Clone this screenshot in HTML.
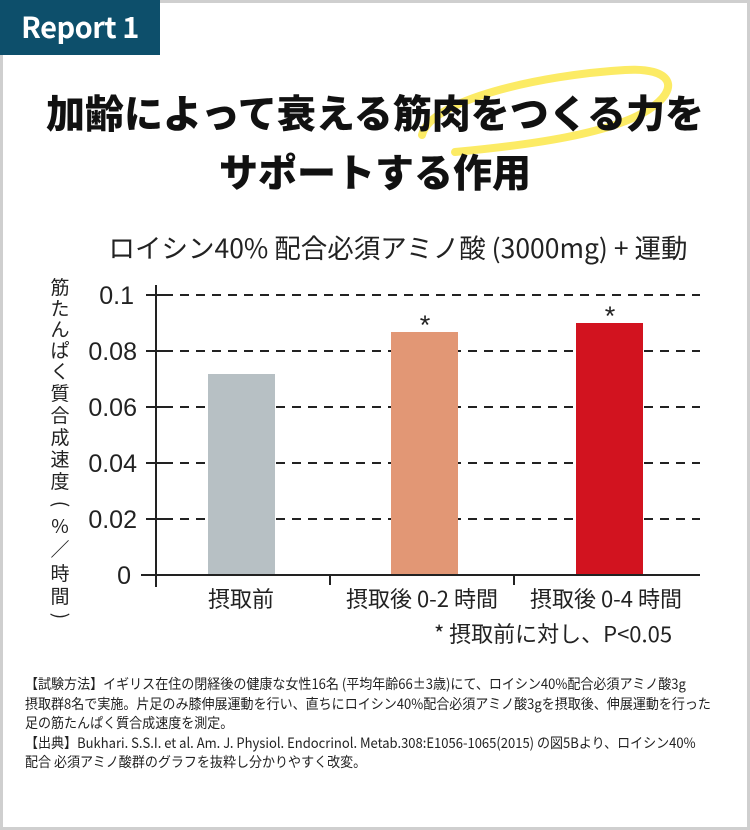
<!DOCTYPE html>
<html><head><meta charset="utf-8"><style>
body{margin:0;width:750px;height:830px;overflow:hidden;background:#fff;font-family:"Liberation Sans","Noto Sans CJK JP",sans-serif}
.frame{position:absolute;left:0;top:0;width:744px;height:824px;border:3px solid #cfcfcf;background:#fff}
.badge{position:absolute;left:0;top:0;width:160px;height:55px;background:#0d4f6b;color:#fff;font-size:29px;font-weight:bold;line-height:53px;text-align:center;font-family:"Noto Sans CJK JP",sans-serif;letter-spacing:-0.5px}
.t{position:absolute;left:0;width:750px;text-align:center;font-family:"Noto Sans CJK JP",sans-serif;font-weight:900;font-size:39px;color:#111}
.note{position:absolute;left:25px;top:675px;font-family:"Noto Sans CJK JP",sans-serif;font-size:14px;line-height:19.5px;color:#222;transform:scaleX(0.93);transform-origin:0 0;width:800px;white-space:nowrap}
</style></head><body>
<div class="frame"></div>
<svg style="position:absolute;left:0;top:0" width="750" height="830">
<path d="M422 135 C 430 100, 540 75, 625 70 C 672 67, 682 88, 648 110 C 610 134, 530 145, 455 152" fill="none" stroke="#fbe84a" stroke-width="8" stroke-linecap="round" opacity="0.85"/>
</svg>
<div class="badge">Report 1</div>
<div class="t" style="top:84px">加齢によって衰える筋肉をつくる力を</div>
<div class="t" style="top:143px">サポートする作用</div>
<svg style="position:absolute;left:0;top:0" width="750" height="830" font-family="Liberation Sans, Noto Sans CJK JP, sans-serif">
<text x="398" y="258" text-anchor="middle" font-size="26.5" fill="#222" font-family="Noto Sans CJK JP, sans-serif">ロイシン40% 配合必須アミノ酸 (3000mg) + 運動</text>
<g stroke="#222" stroke-width="2" stroke-dasharray="9,7">
<line x1="164" y1="295" x2="700" y2="295"/><line x1="164" y1="351" x2="700" y2="351"/><line x1="164" y1="407" x2="700" y2="407"/><line x1="164" y1="463" x2="700" y2="463"/><line x1="164" y1="519" x2="700" y2="519"/>
</g>
<rect x="208" y="374" width="67" height="201" fill="#b7c0c4"/>
<rect x="391" y="332" width="67" height="243" fill="#e29775"/>
<rect x="576" y="323" width="67" height="252" fill="#d2131f"/>
<g stroke="#222" stroke-width="2">
<line x1="156" y1="285" x2="156" y2="587"/><line x1="141" y1="575" x2="700" y2="575"/>
<line x1="146" y1="295" x2="164" y2="295"/><line x1="146" y1="351" x2="164" y2="351"/><line x1="146" y1="407" x2="164" y2="407"/><line x1="146" y1="463" x2="164" y2="463"/><line x1="146" y1="519" x2="164" y2="519"/>
<line x1="330" y1="575" x2="330" y2="585"/><line x1="514" y1="575" x2="514" y2="585"/>
</g>
<g font-size="25" fill="#222" text-anchor="end">
<text x="134" y="304">0.1</text><text x="137" y="360">0.08</text><text x="137" y="416">0.06</text><text x="137" y="472">0.04</text><text x="137" y="528">0.02</text><text x="131" y="584">0</text>
</g>
<g font-size="22" fill="#222" text-anchor="middle" font-family="Noto Sans CJK JP, sans-serif">
<text x="241" y="607">摂取前</text><text x="422" y="607">摂取後 0-2 時間</text><text x="606" y="607">摂取後 0-4 時間</text>
<text x="553" y="642">* 摂取前に対し、P&lt;0.05</text>
</g>
<text x="425" y="334" font-size="27" fill="#222" text-anchor="middle">*</text>
<text x="610" y="325" font-size="27" fill="#222" text-anchor="middle">*</text>
<g font-size="19" fill="#222" text-anchor="middle" font-family="Noto Sans CJK JP, sans-serif">
<text x="60" y="294">筋</text><text x="60" y="315">た</text><text x="60" y="336">ん</text><text x="60" y="357">ぱ</text><text x="60" y="378">く</text><text x="60" y="400">質</text><text x="60" y="422">合</text><text x="60" y="444">成</text><text x="60" y="466">速</text><text x="60" y="488">度</text>
<text x="60" y="510" transform="rotate(90 60 504)">(</text><text x="60" y="533">%</text><text x="60" y="556">／</text><text x="60" y="580">時</text><text x="60" y="603">間</text><text x="60" y="622" transform="rotate(90 60 616)">)</text>
</g>
</svg>
<div class="note">【試験方法】イギリス在住の閉経後の健康な女性16名 (平均年齢66±3歳)にて、ロイシン40%配合必須アミノ酸3g<br>摂取群8名で実施。片足のみ膝伸展運動を行い、直ちにロイシン40%配合必須アミノ酸3gを摂取後、伸展運動を行った<br>足の筋たんぱく質合成速度を測定。<br>【出典】Bukhari. S.S.I. et al. Am. J. Physiol. Endocrinol. Metab.308:E1056-1065(2015) の図5Bより、ロイシン40%<br>配合 必須アミノ酸群のグラフを抜粋し分かりやすく改変。</div>
</body></html>
